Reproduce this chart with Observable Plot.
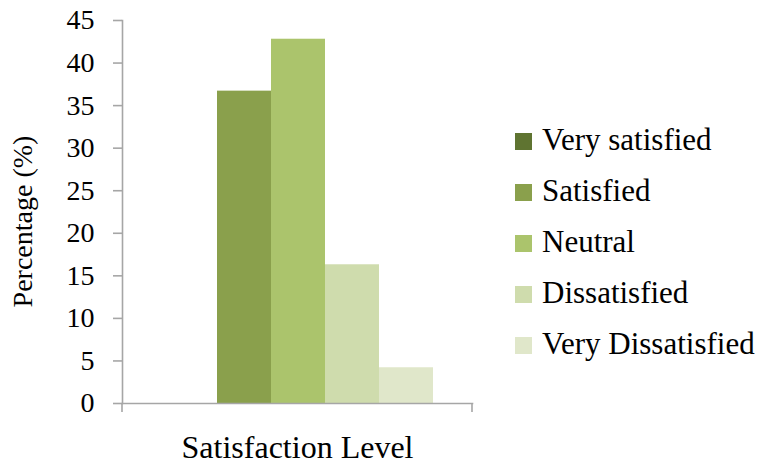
<!DOCTYPE html>
<html>
<head>
<meta charset="utf-8">
<script src="https://cdn.jsdelivr.net/npm/d3@7"></script>
<script src="https://cdn.jsdelivr.net/npm/@observablehq/plot@0.6"></script>
<style>
  body { margin: 0; background: #fff; }
  #wrap { position: relative; width: 764px; height: 465px; font-family: 'Liberation Serif', 'Tinos', serif; }
  #legend { position: absolute; left: 515px; top: 0; }
  .item { position: absolute; left: 0; white-space: nowrap; font-size: 31px; color: #000; }
  .sw { position: absolute; left: 0; width: 17px; height: 17px; }
  .lab { position: absolute; left: 27px; line-height: 1; }
</style>
</head>
<body>
<div id="wrap"></div>
<script>
const levels = ["Very satisfied", "Satisfied", "Neutral", "Dissatisfied", "Very Dissatisfied"];
const percentages = [0, 36.7, 42.8, 16.3, 4.2];
const colors = ["#5f7431", "#8aa04c", "#abc46c", "#cfdcad", "#e0e7ca"];
const yTicks = [0, 5, 10, 15, 20, 25, 30, 35, 40, 45];
const xTitle = "Satisfaction Level";
const yTitle = "Percentage (%)";

const data = levels.map((level, i) => ({level, value: percentages[i]}));
const axisGray = "#a6a6a6";
const serif = "'Liberation Serif', 'Tinos', serif";

function dimsOf(args) {
  return args.find(a => a && a.marginLeft !== undefined && a.width !== undefined);
}

// end ticks on the category axis, derived from the frame dimensions
function endTicks(...args) {
  const dims = dimsOf(args);
  const g = d3.create("svg:g").attr("stroke", axisGray).attr("stroke-width", 1.6);
  const yb = dims.height - dims.marginBottom;
  for (const x of [dims.marginLeft, dims.width - dims.marginRight]) {
    g.append("line").attr("x1", x).attr("x2", x).attr("y1", yb).attr("y2", yb + 9);
  }
  return g.node();
}

// rotated y-axis title centred on the frame
function yTitleMark(...args) {
  const dims = dimsOf(args);
  const cy = (dims.marginTop + dims.height - dims.marginBottom) / 2 + 10;
  return d3.create("svg:text")
    .attr("transform", `translate(${dims.marginLeft - 90},${cy}) rotate(-90)`)
    .attr("text-anchor", "middle")
    .attr("font-family", serif)
    .attr("font-size", 28)
    .attr("fill", "#000")
    .text(yTitle)
    .node();
}

const chart = Plot.plot({
  width: 764,
  height: 465,
  marginLeft: 122,
  marginRight: 292,
  marginTop: 20,
  marginBottom: 62,
  style: {fontFamily: serif, background: "#fff", color: "#000"},
  x: {domain: levels, padding: 0, insetLeft: 40, insetRight: 38, axis: null},
  y: {domain: [0, 45]},
  color: {domain: levels, range: colors},
  marks: [
    Plot.barY(data, {x: "level", y: "value", fill: "level"}),
    Plot.frame({anchor: "left", stroke: axisGray, strokeWidth: 1.6}),
    Plot.frame({anchor: "bottom", stroke: axisGray, strokeWidth: 1.6}),
    endTicks,
    Plot.axisY({
      ticks: yTicks,
      tickSize: 9,
      tickPadding: 19,
      stroke: axisGray,
      strokeWidth: 1.6,
      fill: "#000",
      fontSize: 28,
      fontFamily: serif,
      label: null
    }),
    yTitleMark,
    Plot.text([xTitle], {
      frameAnchor: "bottom",
      lineAnchor: "bottom",
      dy: 54,
      fontSize: 32,
      fontFamily: serif,
      fill: "#000"
    })
  ]
});

const wrap = document.getElementById("wrap");
wrap.appendChild(chart);

const legend = document.createElement("div");
legend.id = "legend";
const rowCenters = [141, 192, 243, 294, 345];
levels.forEach((level, i) => {
  const item = document.createElement("div");
  item.className = "item";
  item.style.top = rowCenters[i] + "px";
  const sw = document.createElement("div");
  sw.className = "sw";
  sw.style.background = colors[i];
  sw.style.top = "-8px";
  const lab = document.createElement("div");
  lab.className = "lab";
  lab.textContent = level;
  lab.style.top = "-17px";
  item.appendChild(sw);
  item.appendChild(lab);
  legend.appendChild(item);
});
wrap.appendChild(legend);
</script>
</body>
</html>
